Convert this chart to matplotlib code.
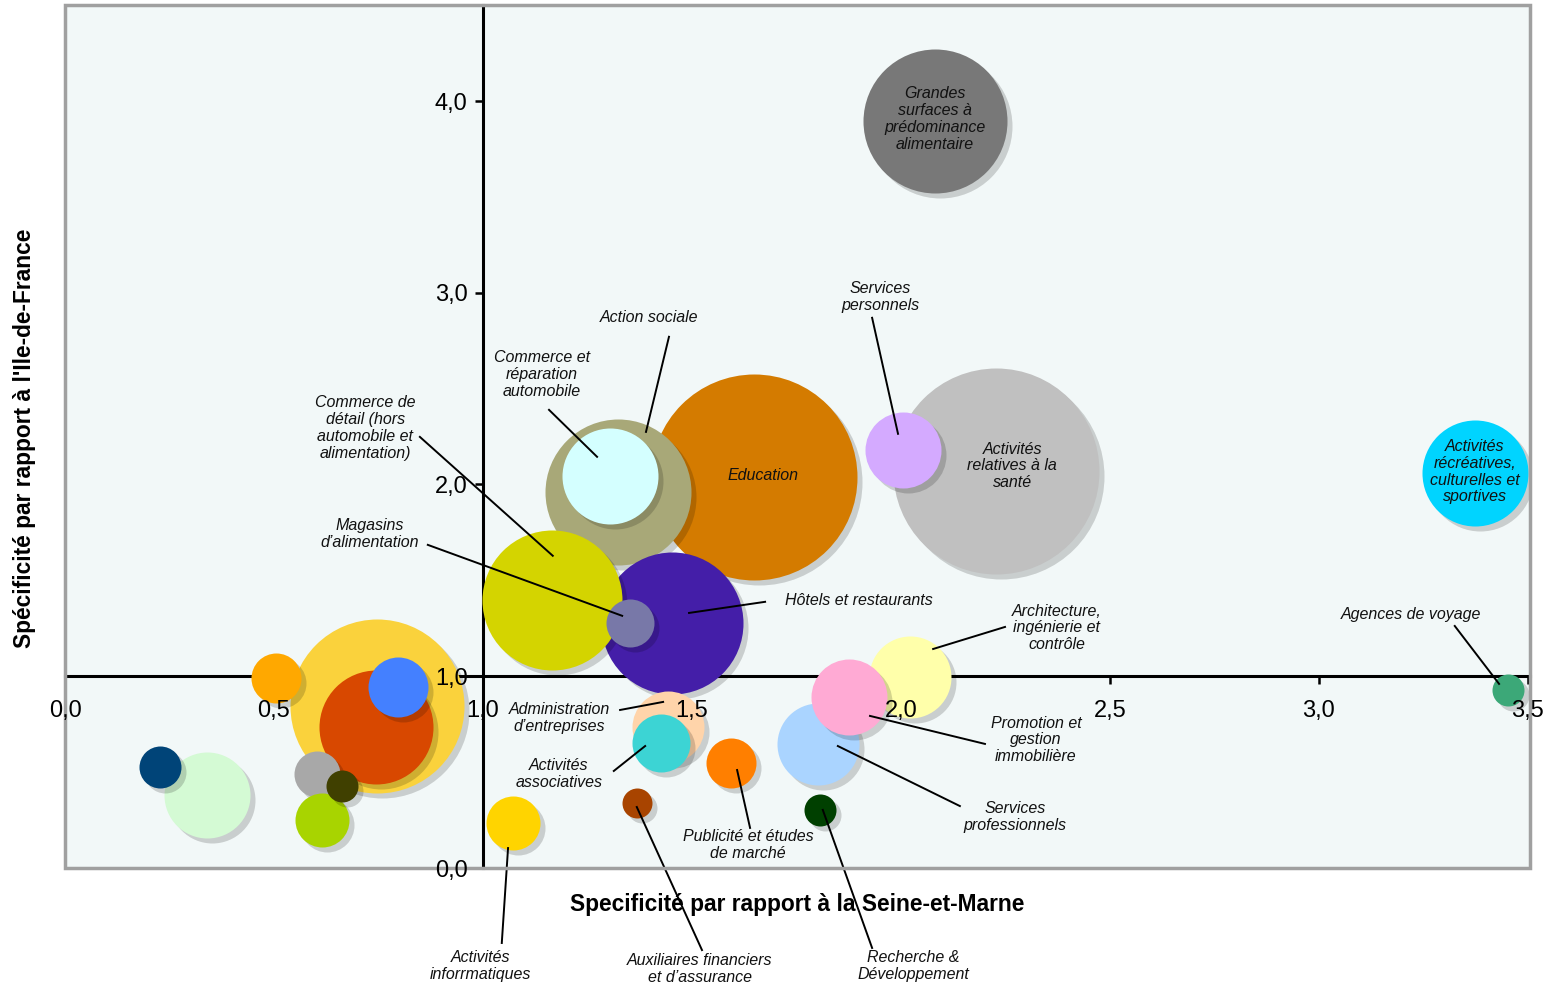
import numpy as np
import matplotlib
matplotlib.use("Agg")
import matplotlib.pyplot as plt
from matplotlib.transforms import ScaledTranslation
from matplotlib.patches import Rectangle

plt.rcParams['font.family'] = ['Liberation Sans', 'DejaVu Sans']

# bubbles, drawn in this order (bottom to top)
secteurs = ['Education', 'Action sociale', 'Commerce auto', 'Hotels', 'Commerce detail',
            'Magasins', 'Administration', 'Associatives', 'Sante', 'Services personnels',
            'Grandes surfaces', 'Recreatives', 'Architecture', 'Services prof', 'Promotion',
            'Publicite', 'Recherche', 'Auxiliaires', 'Informatiques', 'Agences',
            'autre1', 'autre2', 'autre3', 'autre4', 'autre5', 'autre6', 'autre7', 'autre8', 'autre9']
spec_77 = [1.648, 1.323, 1.304, 1.452, 1.165, 1.352, 1.443, 1.426, 2.227, 2.005,
           2.081, 3.373, 2.022, 1.801, 1.876, 1.593, 1.806, 1.368, 1.072, 3.452,
           0.340, 0.227, 0.746, 0.744, 0.797, 0.505, 0.603, 0.615, 0.663]
spec_idf = [2.04, 1.961, 2.045, 1.278, 1.398, 1.278, 0.736, 0.652, 2.07, 2.18,
            3.897, 2.06, 0.996, 0.647, 0.892, 0.548, 0.303, 0.339, 0.235, 0.929,
            0.381, 0.527, 0.845, 0.736, 0.944, 0.99, 0.49, 0.25, 0.428]
taille = [103, 73, 48, 71, 70, 24, 36, 29, 103, 38,
          72, 53, 41, 41, 38, 25, 16, 15, 27, 16,
          43, 21, 87, 57, 30, 25, 23, 27, 16]
couleurs = ['#d47b00', '#a8a878', '#d4ffff', '#441ea8', '#d4d400', '#7878a8', '#ffd4aa', '#3cd4d4',
            '#c0c0c0', '#d4aaff', '#787878', '#00d4ff', '#ffffaa', '#aad4ff', '#ffaad4', '#ff7f00',
            '#004000', '#a84400', '#ffd400', '#3ca878',
            '#d4fad4', '#004478', '#fad23c', '#d84800', '#4480ff', '#ffa800', '#a8a8a8', '#a8d400', '#404000']

xticks = [0.0, 0.5, 1.0, 1.5, 2.0, 2.5, 3.0, 3.5]
yticks = [0.0, 1.0, 2.0, 3.0, 4.0]

# labels: text, text position, leader line (from, to) or None
etiquettes = [
    ("Grandes\nsurfaces à\nprédominance\nalimentaire", (2.081, 3.905), None),
    ("Services\npersonnels", (1.950, 2.979), ((1.931, 2.869), (1.993, 2.264))),
    ("Action sociale", (1.397, 2.869), ((1.445, 2.770), (1.390, 2.274))),
    ("Commerce et\nréparation\nautomobile", (1.141, 2.572), ((1.158, 2.389), (1.273, 2.144))),
    ("Education", (1.670, 2.045), None),
    ("Activités\nrelatives à la\nsanté", (2.266, 2.097), None),
    ("Activités\nrécréatives,\nculturelles et\nsportives", (3.373, 2.066), None),
    ("Commerce de\ndétail (hors\nautomobile et\nalimentation)", (0.718, 2.295), ((0.849, 2.248), (1.167, 1.628))),
    ("Magasins\nd’alimentation", (0.730, 1.742), ((0.868, 1.685), (1.333, 1.315))),
    ("Architecture,\ningénierie et\ncontrôle", (2.373, 1.252), ((2.249, 1.257), (2.077, 1.142))),
    ("Agences de voyage", (3.220, 1.320), ((3.325, 1.262), (3.431, 0.960))),
    ("Administration\nd’entreprises", (1.182, 0.782), ((1.328, 0.824), (1.431, 0.866))),
    ("Activités\nassociatives", (1.182, 0.490), ((1.313, 0.506), (1.388, 0.636))),
    ("Promotion et\ngestion\nimmobilière", (2.323, 0.668), ((2.201, 0.647), (1.926, 0.793))),
    ("Services\nprofessionnels", (2.273, 0.266), ((2.141, 0.323), (1.849, 0.636))),
    ("Publicité et études\nde marché", (1.634, 0.120), ((1.639, 0.209), (1.608, 0.511))),
    ("Activités\ninforrmatiques", (0.995, -0.511), ((1.060, 0.104), (1.045, -0.391))),
    ("Auxiliaires financiers\net d’assurance", (1.519, -0.527), ((1.368, 0.318), (1.524, -0.428))),
    ("Recherche &\nDéveloppement", (2.029, -0.511), ((1.813, 0.303), (1.931, -0.417))),
]

fig = plt.figure(figsize=(15.52, 9.86), dpi=100)
ax = fig.add_axes([65 / 1552, 1 - 868 / 986, 1465 / 1552, 863 / 986])
ax.set_facecolor('#f2f8f8')
ax.set_xlim(0, 3.505)
ax.set_ylim(0, 4.5)

# shadows offset 5 px right / 5 px down
ombre = ax.transData + ScaledTranslation(5 / 100, -5 / 100, fig.dpi_scale_trans)
for x, y, r, c in zip(spec_77, spec_idf, taille, couleurs):
    s = (2 * r * 72 / 100) ** 2
    ax.scatter([x], [y], s=s, color='black', alpha=0.17, linewidths=0, transform=ombre, zorder=3)
    ax.scatter([x], [y], s=s, color=c, linewidths=0, zorder=3)

for txt, (tx, ty), ligne in etiquettes:
    ax.text(tx, ty, txt, ha='center', va='center', style='italic', fontsize=11.5,
            color='#111111', linespacing=1.15, zorder=5, clip_on=False)
    if ligne is not None:
        (x0, y0), (x1, y1) = ligne
        ax.plot([x0, x1], [y0, y1], color='black', lw=1.4, zorder=4, clip_on=False)
ax.text(1.722, 1.393, "Hôtels et restaurants", ha='left', va='center', style='italic',
        fontsize=11.5, color='#111111', zorder=5)
ax.plot([1.675, 1.493], [1.388, 1.330], color='black', lw=1.4, zorder=4)

# axes crossing at (1, 1)
for side in ['top', 'right']:
    ax.spines[side].set_visible(False)
ax.spines['left'].set_position(('data', 1))
ax.spines['bottom'].set_position(('data', 1))
for side in ['left', 'bottom']:
    ax.spines[side].set_linewidth(2.2)
    ax.spines[side].set_zorder(2)
ax.add_patch(Rectangle((0, 0), 1, 1, transform=ax.transAxes, fill=False,
                       edgecolor='#a0a0a0', lw=2.5, clip_on=False, zorder=6))

ax.set_xticks(xticks)
ax.set_yticks(yticks)
ax.tick_params(axis='both', direction='out', length=6, width=1.8,
               labelbottom=False, labelleft=False)

def fr(v):
    return f"{v:.1f}".replace('.', ',')

# tick labels drawn above the bubbles
for v in xticks:
    ax.annotate(fr(v), (v, 1), xytext=(0, -25), textcoords='offset points',
                ha='center', va='center', fontsize=17, zorder=7, annotation_clip=False)
for v in yticks:
    ax.annotate(fr(v), (1, v), xytext=(-11, -2), textcoords='offset points',
                ha='right', va='center', fontsize=17, zorder=7, annotation_clip=False)

fig.text(797 / 1552, 1 - 905 / 986, "Specificité par rapport à la Seine-et-Marne",
         ha='center', va='center', fontsize=16.4, fontweight='bold')
fig.text(25 / 1552, 1 - 438 / 986, "Spécificité par rapport à l'Ile-de-France",
         ha='center', va='center', rotation=90, fontsize=16.4, fontweight='bold')

fig.savefig("out.png", dpi=100)
